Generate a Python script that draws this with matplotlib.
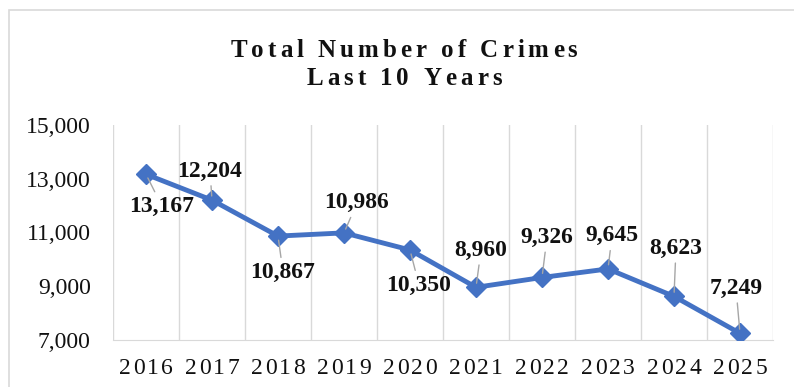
import numpy as np
import matplotlib
matplotlib.use('Agg')
import matplotlib.pyplot as plt
from matplotlib.patches import Rectangle

years = ['2016', '2017', '2018', '2019', '2020', '2021', '2022', '2023', '2024', '2025']
crimes = [13167, 12204, 10867, 10986, 10350, 8960, 9326, 9645, 8623, 7249]
y_ticks = [7000, 9000, 11000, 13000, 15000]
title_lines = ['Total Number of Crimes', 'Last 10 Years']
# label offsets from the point, in pixels (right, down)
label_off = [(16, 32), (-2, -29), (5, 36), (13, -30), (9, 35),
             (5, -37), (5, -40), (4, -33), (2, -48), (-4, -45)]

W, H = 794, 387
SERIF = 'Liberation Serif'
BLUE = '#4472C4'
GRID = '#d9d9d9'

fig = plt.figure(figsize=(W/100, H/100), dpi=100)
renderer = fig.canvas.get_renderer()
ax = fig.add_axes([113/W, 1-340/H, 660/W, 215/H])

def char_w(c, size, weight):
    if c == ' ':
        return size*0.25*100/72
    t = fig.text(0, 0, c, fontsize=size, fontweight=weight, family=SERIF)
    w = t.get_window_extent(renderer).width
    t.remove()
    return w

def spaced(xc, y_top, s, size, gap, weight='normal'):
    ## letter-spaced text centred at xc, baseline at y_top (pixels from top)
    ws = [char_w(c, size, weight) for c in s]
    x = xc - (sum(ws) + gap*(len(s)-1))/2
    for c, w in zip(s, ws):
        if c != ' ':
            fig.text(x/W, 1-y_top/H, c, fontsize=size, fontweight=weight,
                     family=SERIF, ha='left', va='baseline', color='#111111')
        x += w + gap

x = np.arange(len(years))
ax.plot(x, crimes, color=BLUE, lw=3.5, marker='D', ms=10, zorder=3)

ax.set_xlim(-0.5, len(years)-0.5)
ax.set_ylim(7000, 15000)
ax.set_yticks(y_ticks)
ax.set_yticklabels([f'{v:,}' for v in y_ticks], fontfamily=SERIF, fontsize=17, color='#111111')
ax.set_xticks(x)
ax.set_xticklabels([])
ax.set_xticks(np.arange(-0.5, len(years), 1), minor=True)
ax.grid(which='minor', axis='x', color=GRID, lw=1)
ax.tick_params(which='both', length=0)
ax.tick_params(axis='y', pad=16)
for s in ['top', 'left', 'right']:
    ax.spines[s].set_visible(False)
ax.spines['bottom'].set_color(GRID)

for i, v in enumerate(crimes):
    dx, dy = label_off[i]
    ax.annotate(f'{v:,}', xy=(i, v), xytext=(dx*0.72, -dy*0.72), textcoords='offset points',
                ha='center', va='center', fontsize=17, fontweight='bold', family=SERIF,
                color='#111111',
                arrowprops=dict(arrowstyle='-', color='#a6a6a6', lw=1, shrinkA=1, shrinkB=3))

# x labels with a little letter spacing
for i, yr in enumerate(years):
    spaced(146 + 66*i, 374, yr, 17, 2.3)

spaced(404, 57, title_lines[0], 18, 4, 'bold')
spaced(404, 85, title_lines[1], 18, 4, 'bold')

fig.add_artist(Rectangle((9/W, -0.2), 2, 1.2 - 10/H, transform=fig.transFigure,
                         fill=False, ec=GRID, lw=1.2))

fig.savefig('out.png', dpi=100)
